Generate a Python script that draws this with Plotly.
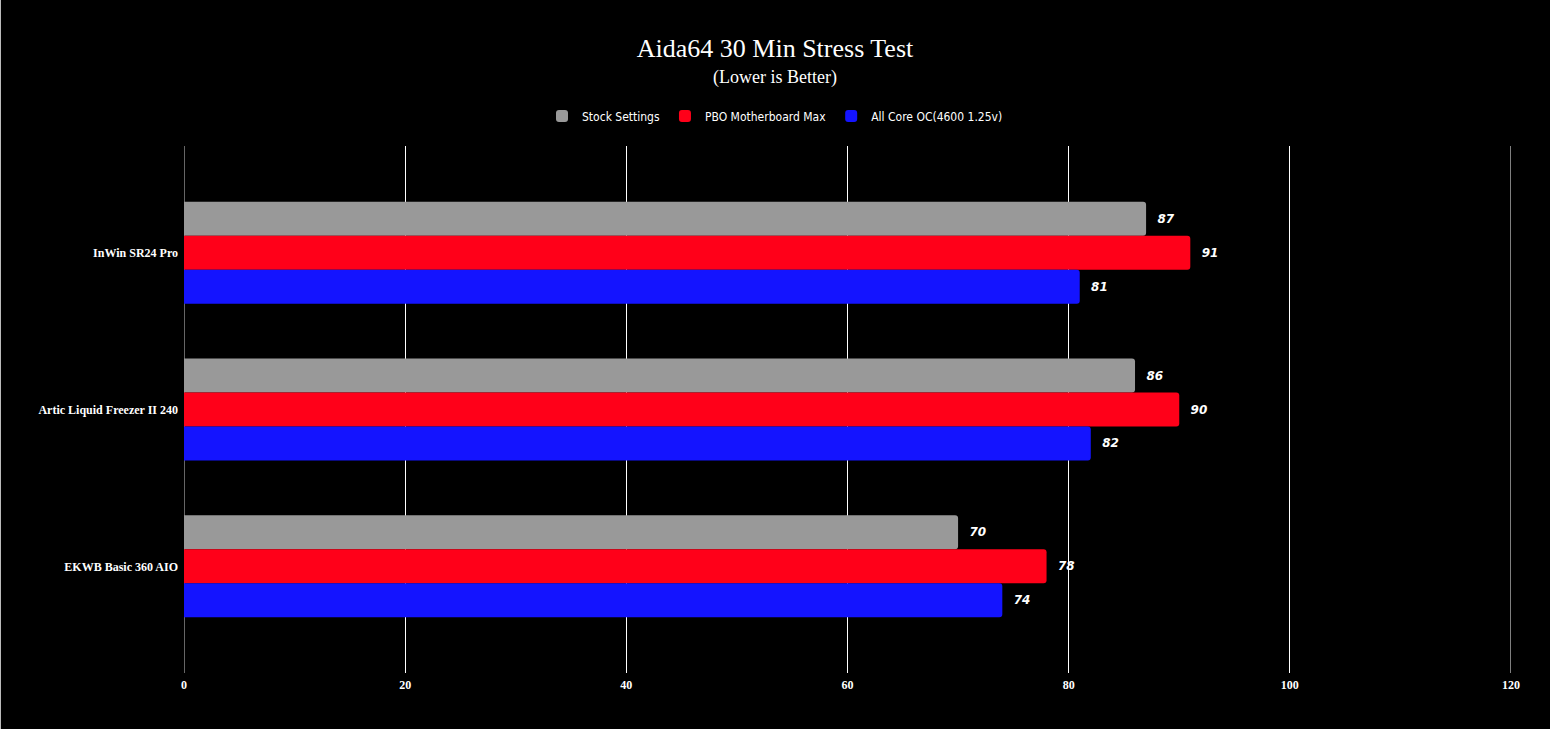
import plotly.graph_objects as go

categories = ["InWin SR24 Pro", "Artic Liquid Freezer II 240", "EKWB Basic 360 AIO"]
series_names = ["Stock Settings", "PBO Motherboard Max", "All Core OC(4600 1.25v)"]
stock = [87, 86, 70]
pbo = [91, 90, 78]
allcore = [81, 82, 74]
colors = ["#999999", "#ff0019", "#1414ff"]
x_ticks = [0, 20, 40, 60, 80, 100, 120]

fig = go.Figure()
for name, vals, col in zip(series_names, [stock, pbo, allcore], colors):
    fig.add_trace(go.Bar(
        y=categories, x=vals, name=name, orientation="h",
        marker=dict(color=col, line=dict(width=0)),
        text=[str(v) for v in vals], textposition="outside",
        texttemplate="  %{text}",
        textfont=dict(family="DejaVu Sans", size=12, color="white", weight="bold", style="italic"),
        cliponaxis=False,
    ))

fig.update_layout(
    width=1550, height=729,
    paper_bgcolor="black", plot_bgcolor="black",
    barmode="group", bargap=0.35, bargroupgap=0.0, barcornerradius=3,
    margin=dict(l=184, r=39, t=146, b=56),
    title=dict(
        text="Aida64 30 Min Stress Test",
        x=0.5, xref="container", xanchor="center",
        y=1 - 48 / 729, yref="container", yanchor="middle",
        font=dict(family="Liberation Serif", size=26, color="white"),
    ),
    legend=dict(
        orientation="h", x=0.5, xref="container", xanchor="center",
        y=1 - 116 / 729, yref="container", yanchor="middle",
        font=dict(family="DejaVu Sans Condensed, Liberation Sans", size=12, color="white"),
        traceorder="normal", itemwidth=30,
    ),
    xaxis=dict(
        range=[0, 120], tickvals=x_ticks, showgrid=True, gridcolor="white", gridwidth=1,
        zeroline=False, showline=False,
        tickfont=dict(family="Liberation Serif", size=12, color="white", weight="bold"),
        ticks="", ticklabelstandoff=3,
    ),
    yaxis=dict(
        range=[2.68, -0.68], showgrid=False, zeroline=False, showline=False,
        tickfont=dict(family="Liberation Serif", size=12, color="white", weight="bold"),
        ticks="", ticklabelstandoff=5,
    ),
    showlegend=True,
)
# subtitle
fig.add_annotation(text="(Lower is Better)", xref="paper", yref="paper",
                   x=(775 - 184) / 1327, y=(673 - 77) / 527, xanchor="center", yanchor="middle",
                   showarrow=False, font=dict(family="Liberation Serif", size=18, color="white"))
# grid lines at the axis range edges (Plotly hides them)
fig.add_shape(type="line", xref="x", yref="paper", x0=0, x1=0, y0=0, y1=1,
              line=dict(color="#cccccc", width=1), layer="below")
fig.add_shape(type="line", xref="x", yref="paper", x0=120, x1=120, y0=0, y1=1,
              line=dict(color="white", width=1), layer="below")
# thin frame line at the left edge of the page
fig.add_shape(type="line", xref="paper", yref="paper",
              x0=-183.5 / 1327, x1=-183.5 / 1327, y0=-56 / 527, y1=673 / 527,
              line=dict(color="#bbbbbb", width=1))

fig.write_html("out.html", post_script="document.body.style.margin='0';",
               config={"displayModeBar": False})
